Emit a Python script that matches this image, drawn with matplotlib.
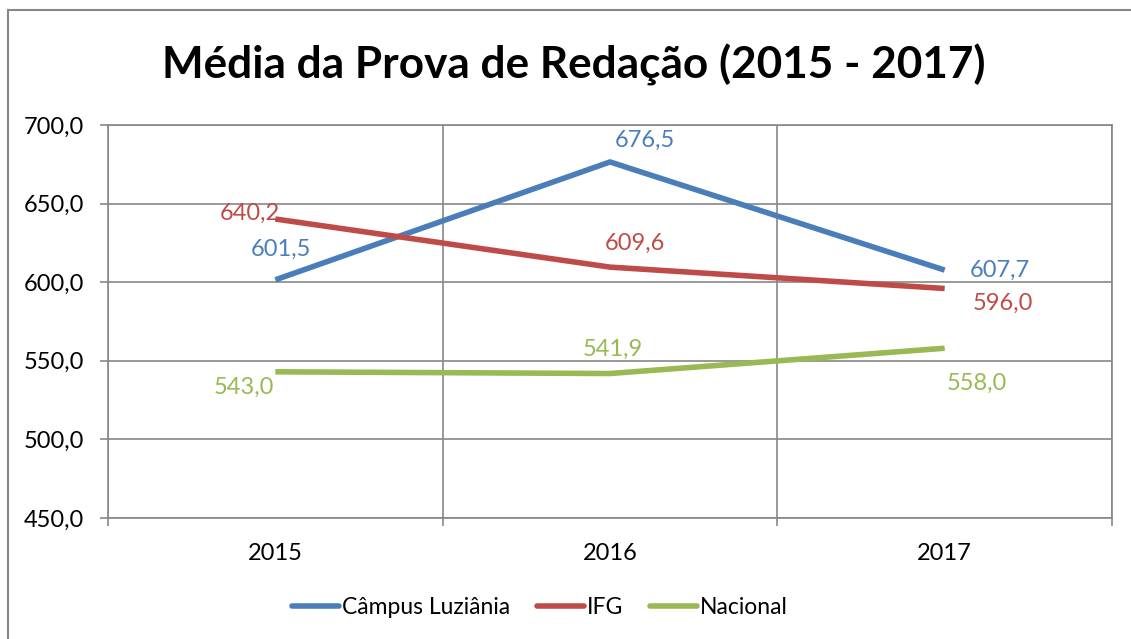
import matplotlib
matplotlib.use("Agg")
import matplotlib.pyplot as plt
from matplotlib.lines import Line2D
from matplotlib.ticker import FixedLocator, FuncFormatter

plt.rcParams['font.family'] = ['Lato', 'DejaVu Sans']

years = ["2015", "2016", "2017"]
campus = [601.5, 676.5, 607.7]
ifg = [640.2, 609.6, 596.0]
nacional = [543.0, 541.9, 558.0]
series_names = ["Câmpus Luziânia", "IFG", "Nacional"]
colors = ["#4A7EBB", "#BE4B48", "#98B954"]
title = "Média da Prova de Redação (2015 - 2017)"
yticks = [450, 500, 550, 600, 650, 700]

# label offsets in pixels (dx, dy) relative to point
offsets = [
    [(6, 30), (35, 22), (55, 0)],
    [(-26, 6), (25, 24), (58, -15)],
    [(-31, -16), (3, 24), (32, -35)],
]

W, H = 1131, 639
fig = plt.figure(figsize=(W / 100, H / 100), dpi=100)
ax = fig.add_axes([108 / W, 1 - 518 / H, (1112 - 108) / W, (518 - 125) / H])

x = list(range(len(years)))
for vals, name, c, offs in zip([campus, ifg, nacional], series_names, colors, offsets):
    ax.plot(x, vals, color=c, lw=4, solid_capstyle='butt', label=name, zorder=3)
    for xi, v, (dx, dy) in zip(x, vals, offs):
        ax.annotate(f"{v:.1f}".replace('.', ','), (xi, v),
                    xytext=(dx * 72 / 100, dy * 72 / 100), textcoords='offset points',
                    ha='center', va='center', color=c, fontsize=17, zorder=4)

ax.set_xlim(-0.5, 2.5)
ax.set_ylim(450, 700)
ax.set_xticks(x)
ax.set_xticklabels(years, fontsize=17)
ax.xaxis.set_minor_locator(FixedLocator([-0.5, 0.5, 1.5, 2.5]))
ax.set_yticks(yticks)
ax.yaxis.set_major_formatter(FuncFormatter(lambda v, p: f"{v:.1f}".replace('.', ',')))
ax.tick_params(axis='y', labelsize=17, length=6, width=1.2, color='#878787', pad=11)
ax.tick_params(axis='x', which='major', length=0, pad=18)
ax.tick_params(axis='x', which='minor', length=6, width=1.2, color='#878787')
ax.grid(True, axis='y', which='major', color='#878787', lw=1.2)
ax.grid(True, axis='x', which='minor', color='#878787', lw=1.2)
for s in ax.spines.values():
    s.set_color('#878787')
    s.set_linewidth(1.2)

fig.text(574 / W, 1 - 65 / H, title, ha='center', va='center',
         fontsize=31.8, fontweight='bold')

handles = [Line2D([], [], color=c, lw=4, solid_capstyle='round') for c in colors]
fig.legend(handles, series_names, loc='center', bbox_to_anchor=(540 / W, 1 - 608 / H),
           ncol=3, frameon=False, fontsize=16.5, handlelength=2.05, handletextpad=0.1,
           columnspacing=1.2)

# outer chart border (left and top only visible)
fig.add_artist(Line2D([8 / W, 8 / W], [0, 1 - 10 / H], transform=fig.transFigure,
                      color='#878787', lw=1.5))
fig.add_artist(Line2D([8 / W, 1], [1 - 10 / H, 1 - 10 / H], transform=fig.transFigure,
                      color='#878787', lw=1.5))

fig.savefig("out.png", dpi=100)
